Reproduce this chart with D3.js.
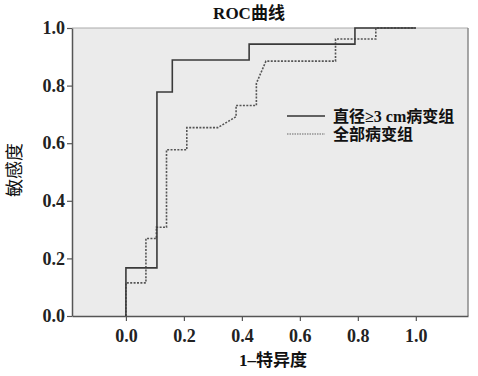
<!DOCTYPE html>
<html><head><meta charset="utf-8">
<script src="https://cdn.jsdelivr.net/npm/d3@7"></script>
<style>body{margin:0;background:#fff}svg{display:block}</style>
</head><body>
<svg id="c" width="478" height="376"></svg>
<script>
// ROC curve data (1 - specificity, sensitivity)
const seriesNames = ["直径≥3 cm病变组", "全部病变组"];
const bigFpr = [0, 0, 0.107, 0.107, 0.16, 0.16, 0.425, 0.425, 0.79, 0.79, 1.0];
const bigTpr = [0, 0.167, 0.167, 0.778, 0.778, 0.889, 0.889, 0.944, 0.944, 1.0, 1.0];
const allFpr = [0, 0, 0.069, 0.069, 0.105, 0.105, 0.14, 0.14, 0.21, 0.21, 0.317, 0.38, 0.38, 0.45, 0.45, 0.483, 0.723, 0.723, 0.862, 0.862, 1.0];
const allTpr = [0, 0.115, 0.115, 0.269, 0.269, 0.308, 0.308, 0.577, 0.577, 0.654, 0.654, 0.692, 0.731, 0.731, 0.808, 0.885, 0.885, 0.962, 0.962, 1.0, 1.0];
const xTicks = [0, 0.2, 0.4, 0.6, 0.8, 1.0];
const yTicks = [0, 0.2, 0.4, 0.6, 0.8, 1.0];
const title = "ROC曲线";
const xLabel = "1–特异度";
const yLabel = "敏感度";

const svg = d3.select("#c");
const L = 72, R = 468, T = 28, B = 316;
const x = d3.scaleLinear().domain([-0.186, 1.18]).range([L, R]);
const y = d3.scaleLinear().domain([0, 1]).range([B, T]);
const serif = "'Liberation Serif','DejaVu Serif',serif";
const cjk = "'Liberation Serif','Noto Sans CJK SC',serif";

svg.append("rect").attr("x", L).attr("y", T).attr("width", R - L).attr("height", B - T).attr("fill", "#ebebeb");
svg.append("line").attr("x1", L).attr("x2", R).attr("y1", T).attr("y2", T).attr("stroke", "#aaa").attr("stroke-width", 1);
svg.append("line").attr("x1", R).attr("x2", R).attr("y1", T).attr("y2", B).attr("stroke", "#8a8a8a").attr("stroke-width", 1.5);

const xAxis = svg.append("g").attr("transform", `translate(0,${B})`)
  .call(d3.axisBottom(x).tickValues(xTicks).tickFormat(d3.format(".1f")).tickSize(5).tickSizeOuter(0));
const yAxis = svg.append("g").attr("transform", `translate(${L},0)`)
  .call(d3.axisLeft(y).tickValues(yTicks).tickFormat(d3.format(".1f")).tickSize(5).tickSizeOuter(0));
[xAxis, yAxis].forEach(g => {
  g.select(".domain").attr("stroke", "#555").attr("stroke-width", 1.5);
  g.selectAll(".tick line").attr("stroke", "#555").attr("stroke-width", 1.2);
  g.selectAll(".tick text").attr("font-family", serif).attr("font-weight", "bold").attr("font-size", 18).attr("fill", "#222");
});
xAxis.selectAll(".tick text").attr("dy", null).attr("y", 26);
yAxis.selectAll(".tick text").attr("x", -7);

const line = d3.line().x(d => x(d[0])).y(d => y(d[1]));
const bigPts = bigFpr.map((v, i) => [v, bigTpr[i]]);
const allPts = allFpr.map((v, i) => [v, allTpr[i]]);
svg.append("path").attr("d", line(allPts)).attr("fill", "none").attr("stroke", "#555").attr("stroke-width", 1.6).attr("stroke-dasharray", "2,1.4");
svg.append("path").attr("d", line(bigPts)).attr("fill", "none").attr("stroke", "#3a3a3a").attr("stroke-width", 1.6);

// legend
const lg = svg.append("g");
lg.append("line").attr("x1", 287).attr("x2", 325).attr("y1", 116).attr("y2", 116).attr("stroke", "#333").attr("stroke-width", 1.3);
lg.append("line").attr("x1", 287).attr("x2", 325).attr("y1", 134).attr("y2", 134).attr("stroke", "#666").attr("stroke-width", 1.2).attr("stroke-dasharray", "1.5,1");
lg.selectAll("text").data(seriesNames).join("text")
  .attr("x", 333).attr("y", (d, i) => 116 + i * 18).attr("dy", "0.36em")
  .attr("font-family", cjk).attr("font-weight", "bold").attr("font-size", 16).attr("fill", "#111").text(d => d);

svg.append("text").attr("x", 249).attr("y", 19).attr("text-anchor", "middle")
  .attr("font-family", cjk).attr("font-weight", "bold").attr("font-size", 17).attr("fill", "#111").text(title);
svg.append("text").attr("x", 273).attr("y", 366).attr("text-anchor", "middle")
  .attr("font-family", cjk).attr("font-weight", "bold").attr("font-size", 17).attr("fill", "#111").text(xLabel);
svg.append("text").attr("transform", "translate(21,170) rotate(-90)").attr("text-anchor", "middle")
  .attr("font-family", cjk).attr("font-weight", "normal").attr("font-size", 18).attr("fill", "#111").text(yLabel);
</script>
</body></html>
